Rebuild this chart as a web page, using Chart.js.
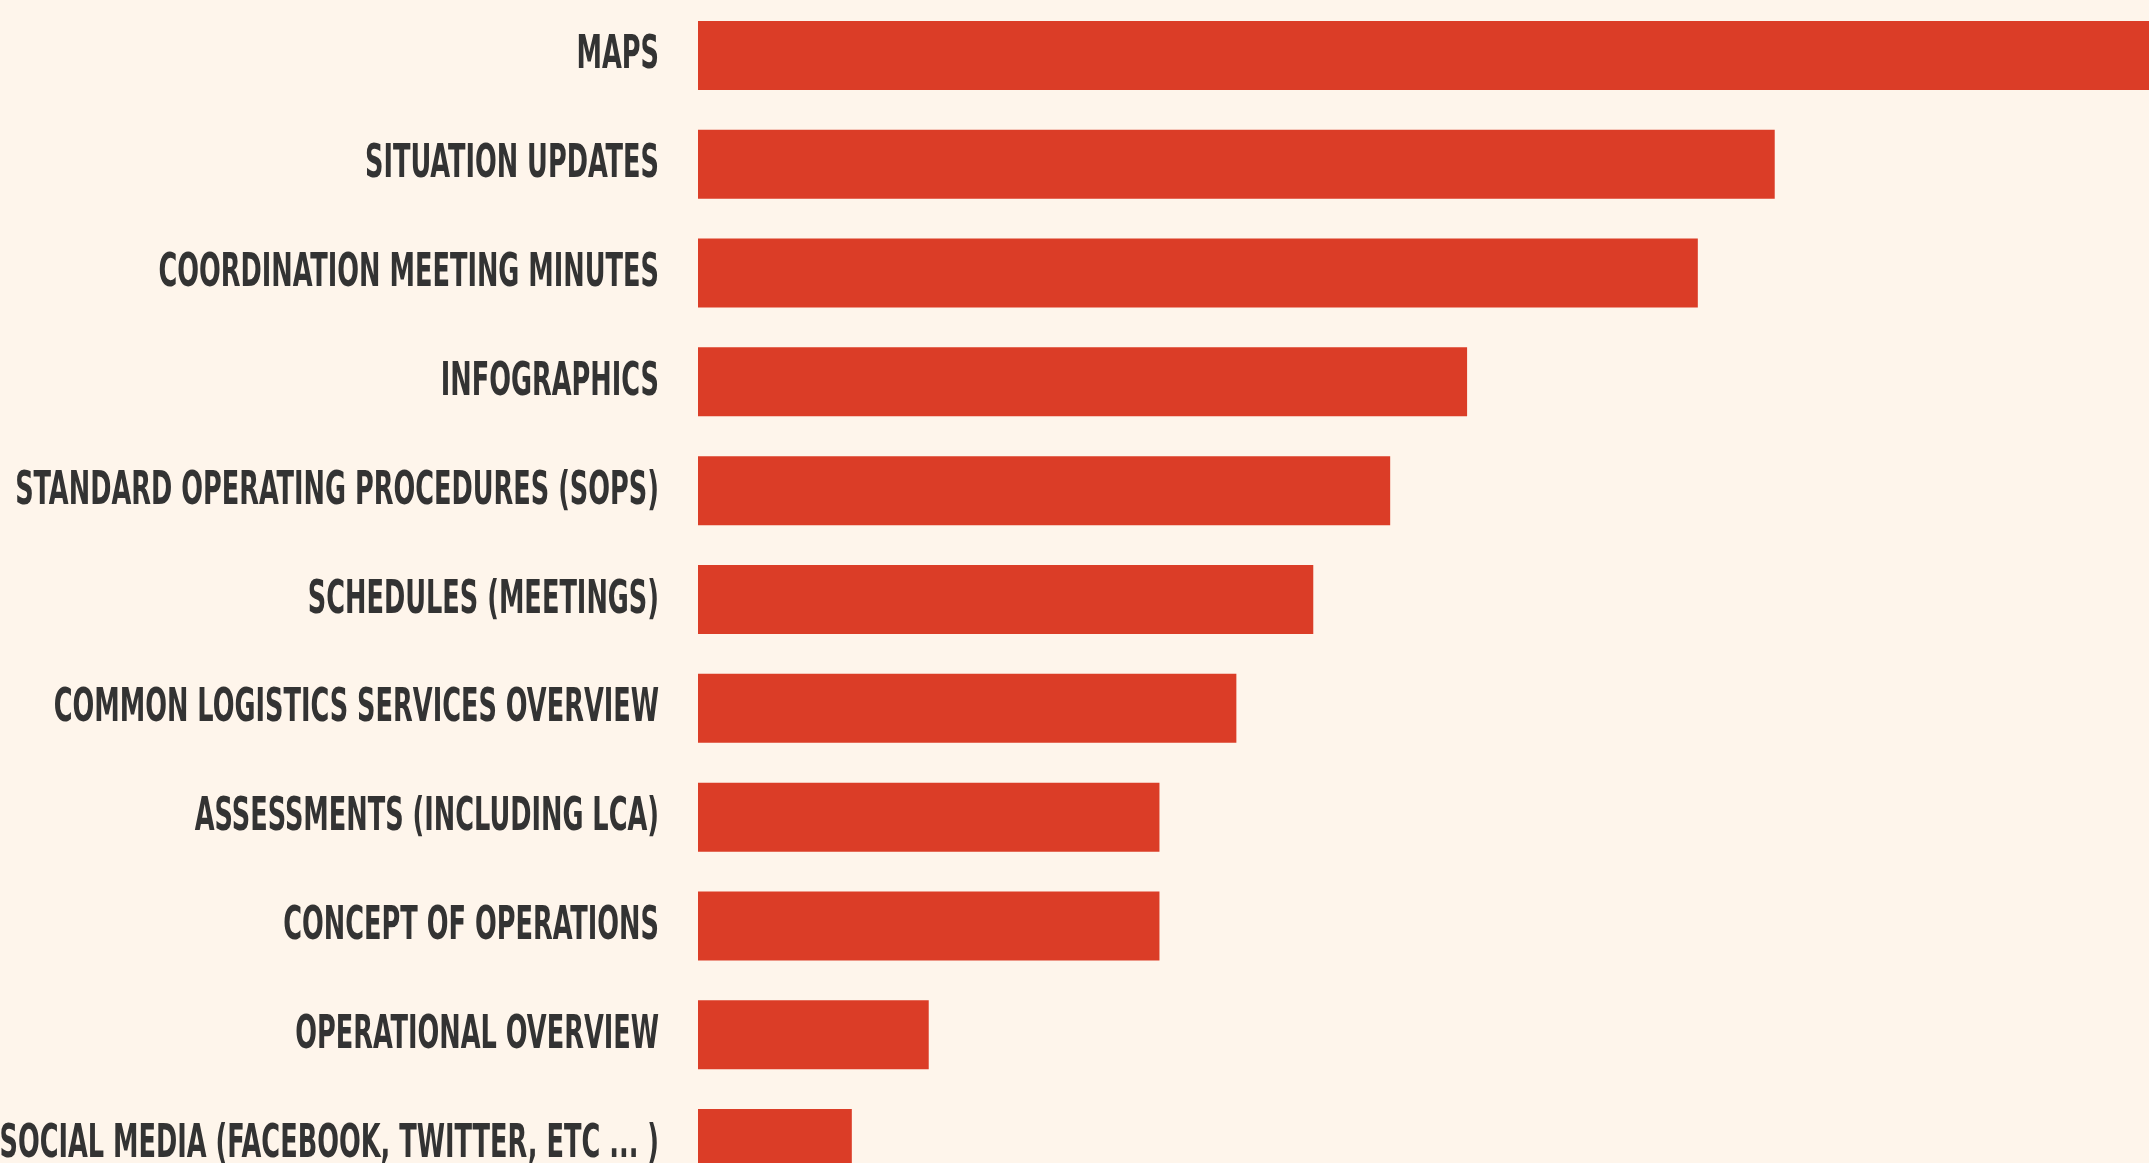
<!DOCTYPE html>
<html>
<head>
<meta charset="utf-8">
<script src="https://cdn.jsdelivr.net/npm/chart.js@4/dist/chart.umd.min.js"></script>
<style>
  html, body { margin: 0; padding: 0; background: #fef5eb; overflow: hidden; }
  canvas { display: block; }
</style>
</head>
<body>
<canvas id="c" width="2400" height="1200"></canvas>
<script>
const categories = [
  "MAPS",
  "SITUATION UPDATES",
  "COORDINATION MEETING MINUTES",
  "INFOGRAPHICS",
  "STANDARD OPERATING PROCEDURES (SOPS)",
  "SCHEDULES (MEETINGS)",
  "COMMON LOGISTICS SERVICES OVERVIEW",
  "ASSESSMENTS (INCLUDING LCA)",
  "CONCEPT OF OPERATIONS",
  "OPERATIONAL OVERVIEW",
  "SOCIAL MEDIA (FACEBOOK, TWITTER, ETC ... )"
];
const counts = [19, 14, 13, 10, 9, 8, 7, 6, 6, 3, 2];

const LABEL_FONT = "bold 46px 'Liberation Sans Narrow', 'DejaVu Sans Condensed', 'Liberation Sans', sans-serif";

const condensedLabels = {
  id: 'condensedLabels',
  afterDatasetsDraw(chart) {
    const ctx = chart.ctx;
    const y = chart.scales.y;
    ctx.save();
    ctx.font = LABEL_FONT;
    const ref = ctx.measureText("SITUATION UPDATES").width;
    const sx = 294 / ref;
    ctx.fillStyle = '#333333';
    ctx.textAlign = 'right';
    ctx.textBaseline = 'alphabetic';
    const right = chart.chartArea.left - 39;
    categories.forEach((lab, i) => {
      const py = y.getPixelForValue(i);
      ctx.save();
      ctx.translate(right, py + 13);
      ctx.scale(sx, 1);
      ctx.fillText(lab, 0, 0);
      ctx.restore();
    });
    ctx.restore();
  }
};

new Chart(document.getElementById('c'), {
  type: 'bar',
  data: {
    labels: categories,
    datasets: [{
      data: counts,
      backgroundColor: '#db3d27',
      borderWidth: 0,
      categoryPercentage: 1,
      barPercentage: 0.634
    }]
  },
  options: {
    indexAxis: 'y',
    responsive: false,
    animation: false,
    devicePixelRatio: 1,
    layout: { padding: { top: 1, bottom: 2, left: 0, right: 10 } },
    plugins: { legend: { display: false }, tooltip: { enabled: false } },
    scales: {
      x: { display: false, min: 0, max: 22 },
      y: {
        display: true,
        grid: { display: false, drawTicks: false },
        border: { display: false },
        ticks: { display: false },
        afterFit(scale) { scale.width = 698; }
      }
    }
  },
  plugins: [condensedLabels]
});
</script>
</body>
</html>
